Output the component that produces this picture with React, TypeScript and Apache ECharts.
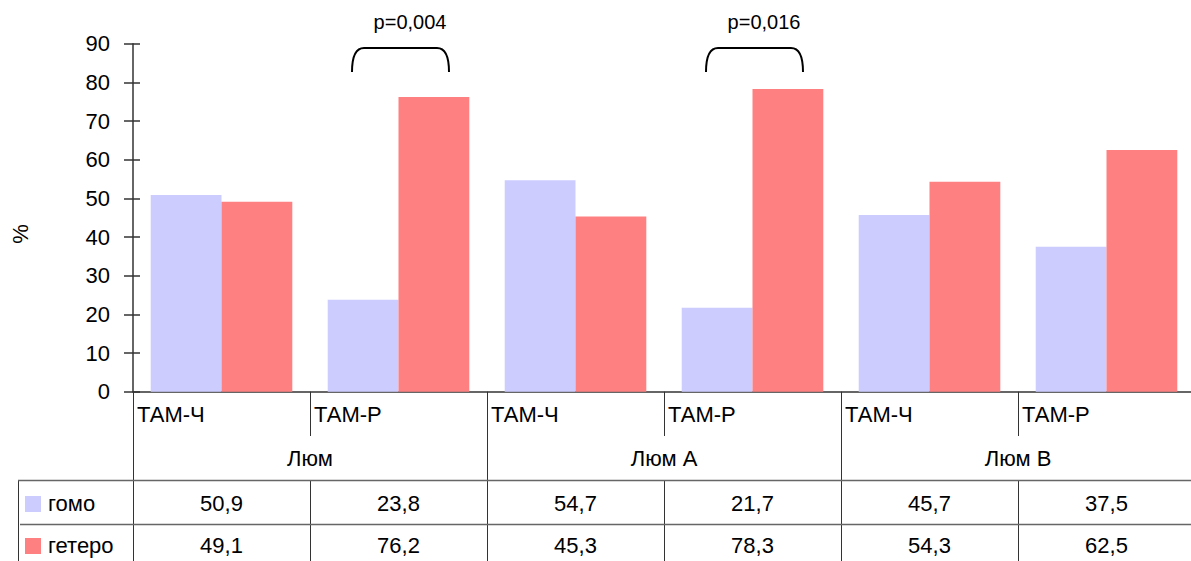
import React, { useEffect, useRef } from "react";
import * as echarts from "echarts";

const categories = ["ТАМ-Ч", "ТАМ-Р", "ТАМ-Ч", "ТАМ-Р", "ТАМ-Ч", "ТАМ-Р"];
const groups = ["Люм", "Люм А", "Люм В"];
const seriesNames = ["гомо", "гетеро"];
const gomo = [50.9, 23.8, 54.7, 21.7, 45.7, 37.5];
const getero = [49.1, 76.2, 45.3, 78.3, 54.3, 62.5];
const seriesColors = ["#CCCCFF", "#FF8080"];
const yMin = 0;
const yMax = 90;
const yStep = 10;
const yName = "%";
const pValues = [
  { label: "p=0,004", category: 1 },
  { label: "p=0,016", category: 3 },
];

const FONT = "'Liberation Sans', Arial, sans-serif";
const FS = 22;

let shapeRegistered = false;
function ensureShape() {
  if (shapeRegistered) return;
  echarts.graphic.registerShape(
    "bracket",
    echarts.graphic.extendPath("M0,24 C0,13 2,0 12,0 L85,0 C95,0 97,13 97,24", {}) as any
  );
  shapeRegistered = true;
}

const fmt = (v: number) => v.toFixed(1).replace(".", ",");

export default function App() {
  const ref = useRef<HTMLDivElement>(null);
  useEffect(() => {
    if (!ref.current) return;
    ensureShape();
    const chart = echarts.init(ref.current, undefined, { renderer: "svg" });
    const W = 1210;
    const H = 561;
    const GL = 133;
    const GT = 43.7;
    const GH = 348;
    const GW = 1062;
    const GB = GT + GH;
    const cw = GW / categories.length;
    const lineColor = "#333";
    const hColor = "#666";
    const rowY1 = 480;
    const rowY2 = 524;

    const graphic: any[] = [];
    for (let i = 0; i <= categories.length; i++) {
      const x = Math.round(GL + i * cw) + 0.5;
      if (i % 2 === 0) {
        graphic.push({ type: "line", shape: { x1: x, y1: GB, x2: x, y2: H }, style: { stroke: lineColor, lineWidth: 1 } });
      } else {
        graphic.push({ type: "line", shape: { x1: x, y1: GB, x2: x, y2: 436 }, style: { stroke: lineColor, lineWidth: 1 } });
        graphic.push({ type: "line", shape: { x1: x, y1: rowY1, x2: x, y2: H }, style: { stroke: lineColor, lineWidth: 1 } });
      }
    }
    graphic.push({ type: "line", shape: { x1: 18.5, y1: rowY1, x2: 18.5, y2: H }, style: { stroke: lineColor, lineWidth: 1 } });
    graphic.push({ type: "line", shape: { x1: 18, y1: rowY1 + 0.5, x2: W, y2: rowY1 + 0.5 }, style: { stroke: hColor, lineWidth: 1.5 } });
    graphic.push({ type: "line", shape: { x1: 20, y1: rowY2 + 0.5, x2: W, y2: rowY2 + 0.5 }, style: { stroke: hColor, lineWidth: 1.5 } });

    categories.forEach((c, i) => {
      graphic.push({
        type: "text",
        x: GL + i * cw + 4,
        y: 414,
        style: { text: c, font: `${FS}px ${FONT}`, fill: "#000", textAlign: "left", textVerticalAlign: "middle" },
      });
    });
    groups.forEach((g, gi) => {
      graphic.push({
        type: "text",
        x: GL + (2 * gi + 1) * cw,
        y: 458,
        style: { text: g, font: `${FS}px ${FONT}`, fill: "#000", textAlign: "center", textVerticalAlign: "middle" },
      });
    });
    [gomo, getero].forEach((vals, r) => {
      const cy = r === 0 ? 503 : 545;
      graphic.push({
        type: "rect",
        shape: { x: 25, y: cy - 7, width: 16, height: 16 },
        style: { fill: seriesColors[r] },
      });
      graphic.push({
        type: "text",
        x: 48,
        y: cy,
        style: { text: seriesNames[r], font: `${FS}px ${FONT}`, fill: "#000", textAlign: "left", textVerticalAlign: "middle" },
      });
      vals.forEach((v, i) => {
        graphic.push({
          type: "text",
          x: GL + (i + 0.5) * cw,
          y: cy,
          style: { text: fmt(v), font: `${FS}px ${FONT}`, fill: "#000", textAlign: "center", textVerticalAlign: "middle" },
        });
      });
    });
    pValues.forEach((p) => {
      const gx = GL + p.category * cw;
      graphic.push({
        type: "bracket",
        x: gx + 42,
        y: 48,
        style: { stroke: "#000", lineWidth: 2, fill: null },
      });
      graphic.push({
        type: "text",
        x: gx + 100,
        y: 22,
        style: { text: p.label, font: `20px ${FONT}`, fill: "#000", textAlign: "center", textVerticalAlign: "middle" },
      });
    });
    graphic.push({
      type: "text",
      x: 20,
      y: 234,
      rotation: Math.PI / 2,
      style: { text: yName, font: `${FS}px ${FONT}`, fill: "#000", textAlign: "center", textVerticalAlign: "middle" },
    });

    chart.setOption({
      animation: false,
      grid: { left: GL, top: GT, width: GW, height: GH },
      xAxis: {
        type: "category",
        data: categories,
        axisLine: { show: true, lineStyle: { color: lineColor, width: 1.5 } },
        axisTick: { show: false },
        axisLabel: { show: false },
      },
      yAxis: [
        {
          type: "value",
          min: yMin,
          max: yMax,
          interval: yStep,
          axisLine: { show: true, lineStyle: { color: lineColor, width: 1.5 } },
          axisTick: { show: true, length: 9, lineStyle: { color: lineColor, width: 1.5 } },
          axisLabel: { margin: 23, fontFamily: FONT, fontSize: FS, color: "#000" },
          splitLine: { show: false },
        },
        {
          type: "value",
          position: "left",
          min: yMin,
          max: yMax,
          interval: yStep,
          axisLine: { show: false },
          axisTick: { show: true, inside: true, length: 7, lineStyle: { color: lineColor, width: 1.5 } },
          axisLabel: { show: false },
          splitLine: { show: false },
        },
      ],
      series: [
        {
          name: seriesNames[0],
          type: "bar",
          data: gomo,
          itemStyle: { color: seriesColors[0] },
          barGap: "0%",
          barCategoryGap: "20%",
        },
        {
          name: seriesNames[1],
          type: "bar",
          data: getero,
          itemStyle: { color: seriesColors[1] },
          barGap: "0%",
          barCategoryGap: "20%",
        },
      ],
      graphic,
    });
    return () => chart.dispose();
  }, []);
  return (
    <div style={{ position: "fixed", left: 0, top: 0, width: 1191, height: 561, overflow: "hidden", background: "#fff" }}>
      <div ref={ref} style={{ width: 1210, height: 561 }} />
    </div>
  );
}
